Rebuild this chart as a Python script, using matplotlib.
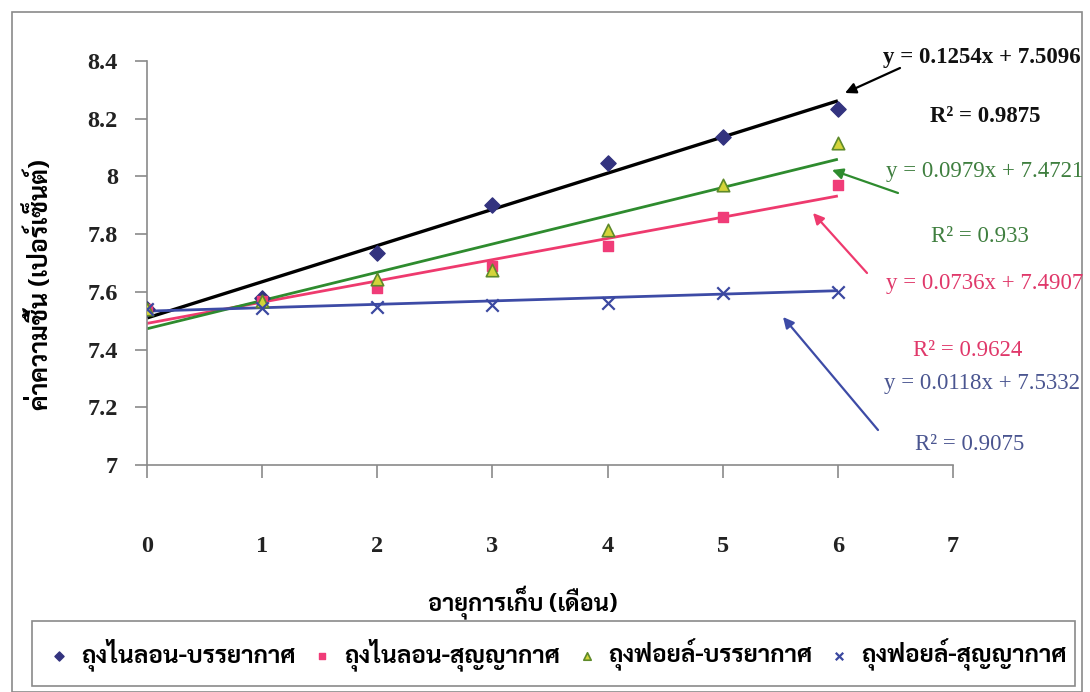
import numpy as np
import matplotlib
matplotlib.use('Agg')
import matplotlib.pyplot as plt
from matplotlib import font_manager
from matplotlib.patches import Rectangle

# moisture content (%) over storage time (months)
months = [0, 1, 2, 3, 4, 5, 6]
nylon_air = [7.54, 7.58, 7.735, 7.90, 8.045, 8.135, 8.235]
nylon_vac = [7.54, 7.57, 7.615, 7.69, 7.76, 7.86, 7.97]
foil_air = [7.54, 7.57, 7.645, 7.675, 7.815, 7.97, 8.115]
foil_vac = [7.54, 7.545, 7.548, 7.556, 7.562, 7.595, 7.598]

series_names = ['ถุงไนลอน-บรรยากาศ', 'ถุงไนลอน-สุญญากาศ',
                'ถุงฟอยล์-บรรยากาศ', 'ถุงฟอยล์-สุญญากาศ']

# trendline equations shown on the chart
slopes = [0.1254, 0.0736, 0.0979, 0.0118]
intercepts = [7.5096, 7.4907, 7.4721, 7.5332]
r2_values = ['0.9875', '0.9624', '0.933', '0.9075']

x_ticks = [0, 1, 2, 3, 4, 5, 6, 7]
y_ticks = [7, 7.2, 7.4, 7.6, 7.8, 8, 8.2, 8.4]
y_ticklabels = ['7', '7.2', '7.4', '7.6', '7.8', '8', '8.2', '8.4']

# pick an installed Thai font
installed = {f.name for f in font_manager.fontManager.ttflist}
thai_font = 'DejaVu Sans'
for cand in ['Sarabun', 'Taviraj', 'Noto Sans Thai', 'Athiti', 'Bai Jamjuree']:
    if cand in installed:
        thai_font = cand
        break
serif = 'Liberation Serif'

W, H = 1090, 692


def fp(px, py):
    # pixel position (from top-left) -> figure fraction
    return (px / W, 1 - py / H)


fig = plt.figure(figsize=(W / 100, H / 100), dpi=100)
ax = fig.add_axes([147 / W, 1 - 465 / H, (953 - 147) / W, (465 - 61) / H])

line_colors = ['#000000', '#EE3A6E', '#2E8B2E', '#3D4BA6']
text_colors = ['#111111', '#E0386A', '#3F7F3F', '#4A5590']
line_widths = [2.4, 2.0, 2.0, 2.0]

# trendlines
xs = np.array([0, 6])
for i in range(4):
    ax.plot(xs, slopes[i] * xs + intercepts[i], color=line_colors[i],
            lw=line_widths[i], zorder=2, solid_capstyle='butt')

# data markers
h1 = ax.scatter(months, nylon_air, marker='D', s=60, color='#33337F', zorder=3,
                label=series_names[0])
h2 = ax.scatter(months, nylon_vac, marker='s', s=60, color='#F03C78', zorder=3,
                label=series_names[1])
h3 = ax.scatter(months, foil_air, marker='^', s=80, facecolor='#D4D43A',
                edgecolor='#5E8A2A', linewidths=1.2, zorder=3, label=series_names[2])
h4 = ax.scatter(months, foil_vac, marker='x', s=80, color='#3B48A0', linewidths=1.6,
                zorder=3, label=series_names[3])

ax.set_xlim(0, 7)
ax.set_ylim(7, 8.4)
ax.set_xticks(x_ticks)
ax.set_yticks(y_ticks)
ax.set_yticklabels(y_ticklabels)
for s in ['top', 'right']:
    ax.spines[s].set_visible(False)
for s in ['left', 'bottom']:
    ax.spines[s].set_color('#8A8A8A')
    ax.spines[s].set_linewidth(1.2)
ax.tick_params(axis='both', direction='out', length=9, width=1.2, color='#8A8A8A')
ax.tick_params(axis='x', pad=42)
ax.tick_params(axis='y', pad=12)
for lab in ax.get_xticklabels() + ax.get_yticklabels():
    lab.set_fontfamily(serif)
    lab.set_fontsize(17.5)
    lab.set_fontweight('bold')
    lab.set_color('#222222')

# axis titles
fig.text(*fp(40, 285), 'ค่าความชื้น (เปอร์เซ็นต์)', rotation=90, ha='center', va='center',
         family=thai_font, fontsize=18, fontweight='bold')
fig.text(*fp(523, 603), 'อายุการเก็บ (เดือน)', ha='center', va='center',
         family=thai_font, fontsize=17, fontweight='bold')

# equation labels: (equation centre, r2 centre, arrow tail, arrow tip) in pixels
eq_pos = [(982, 57), (985, 284), (985, 172), (982, 383)]
r2_pos = [(985, 117), (968, 350), (980, 236), (970, 444)]
arrow_tail = [(900, 68), (867, 273), (898, 193), (878, 430)]
arrow_tip = [(845, 93), (813, 213), (832, 170), (783, 317)]

for i in range(4):
    eq = 'y = %.4fx + %.4f' % (slopes[i], intercepts[i])
    fig.text(*fp(*eq_pos[i]), eq, ha='center', va='center', family=serif,
             fontsize=16.5, color=text_colors[i],
             fontweight='bold' if i == 0 else 'normal')
    fig.text(*fp(*r2_pos[i]), 'R² = ' + r2_values[i], ha='center', va='center',
             family=serif, fontsize=16.5, color=text_colors[i],
             fontweight='bold' if i == 0 else 'normal')
    ax.annotate('', xy=fp(*arrow_tip[i]), xycoords='figure fraction',
                xytext=fp(*arrow_tail[i]), textcoords='figure fraction',
                arrowprops=dict(arrowstyle='-|>', color=line_colors[i], lw=1.6,
                                mutation_scale=16, shrinkA=0, shrinkB=0),
                annotation_clip=False)

# outer chart frame
fig.add_artist(Rectangle(fp(12, 692), (1082 - 12) / W, (692 - 12) / H,
                         transform=fig.transFigure, fill=False,
                         edgecolor='#8A8A8A', lw=1.2))

# legend box drawn separately, legend entries packed in the middle
fig.add_artist(Rectangle(fp(32, 686), (1075 - 32) / W, (686 - 621) / H,
                         transform=fig.transFigure, fill=False,
                         edgecolor='#8A8A8A', lw=1.2))
leg = fig.legend(handles=[h1, h2, h3, h4], loc='center',
                 bbox_to_anchor=fp(558, 655), ncol=4, frameon=False,
                 markerscale=0.6, handlelength=0.8, handletextpad=0.5,
                 columnspacing=0.7, borderaxespad=0,
                 prop={'family': thai_font, 'size': 17.5, 'weight': 'bold'})

fig.savefig('out.png', dpi=100)
